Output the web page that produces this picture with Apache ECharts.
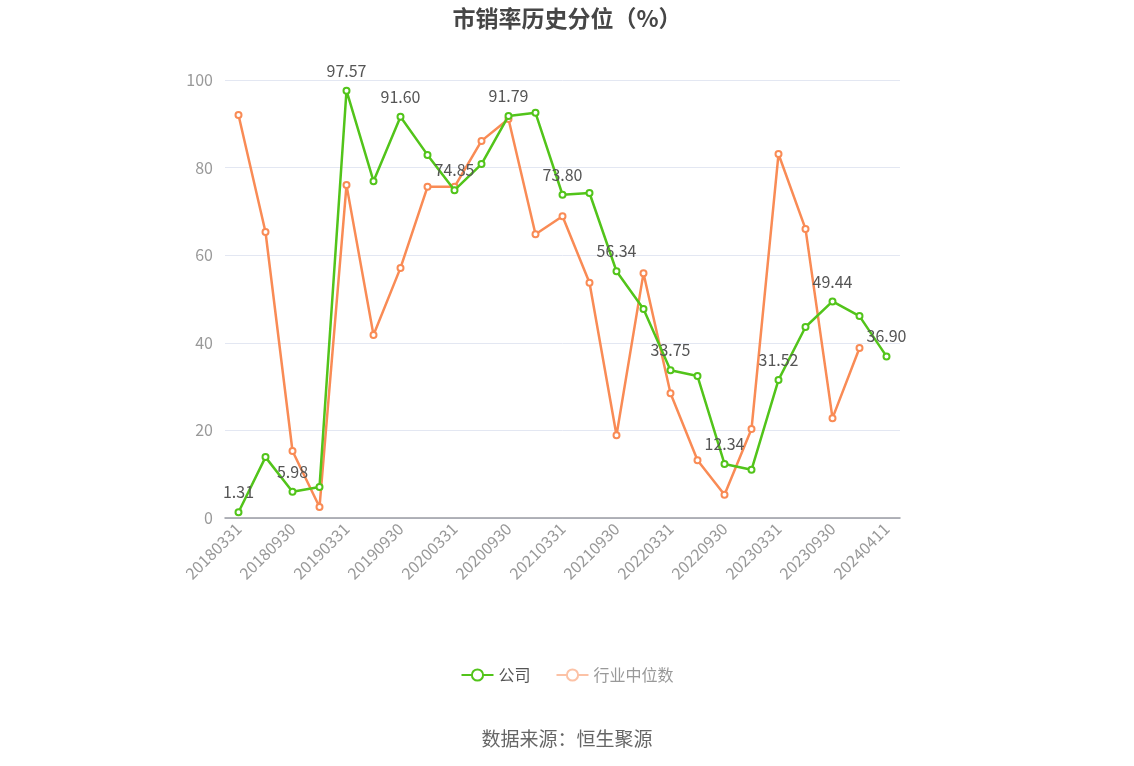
<!DOCTYPE html>
<html>
<head>
<meta charset="utf-8">
<script src="https://cdn.jsdelivr.net/npm/echarts@6/dist/echarts.min.js"></script>
<style>html,body{margin:0;padding:0;background:#fff}#c{width:1134px;height:766px}</style>
</head>
<body>
<div id="c"></div>
<script>
var categories = ['20180331','20180630','20180930','20181231','20190331','20190630','20190930','20191231','20200331','20200630','20200930','20201231','20210331','20210630','20210930','20211231','20220331','20220630','20220930','20221231','20230331','20230630','20230930','20231231','20240411'];
var companyValues = [1.31,13.9,5.98,7.1,97.57,76.9,91.60,82.9,74.85,80.8,91.79,92.5,73.80,74.2,56.34,47.7,33.75,32.4,12.34,11.0,31.52,43.6,49.44,46.1,36.90];
var industryValues = [92.0,65.3,15.3,2.5,76.0,41.8,57.1,75.6,75.6,86.1,91.1,64.8,68.9,53.7,18.9,55.9,28.5,13.2,5.3,20.3,83.1,66.0,22.8,38.8,null];
var yTicks = [0,20,40,60,80,100];

var chart = echarts.init(document.getElementById('c'));
chart.setOption({
  animation:false,
  title:{text:'市销率历史分位（%）',left:'center',top:2,textStyle:{fontSize:23,fontWeight:'bold',color:'#464646',fontFamily:'"Noto Sans CJK SC"'}},
  graphic:[{type:'text',left:'center',top:729,style:{text:'数据来源：恒生聚源',fontSize:19,fill:'#666',fontFamily:'"Noto Sans CJK SC"'}}],
  legend:{bottom:78,left:'center',itemWidth:32,itemHeight:14,itemGap:25,textStyle:{fontSize:16,fontFamily:'"Noto Sans CJK SC"'},
    data:[{name:'公司',textStyle:{color:'#555'}},{name:'行业中位数',textStyle:{color:'#999'},itemStyle:{color:'#fcc2a6',borderColor:'#fcc2a6'},lineStyle:{color:'#fcc2a6'}}]},
  grid:{left:225,right:234,top:80,bottom:248},
  xAxis:{type:'category',data:categories,boundaryGap:true,
    axisLine:{lineStyle:{color:'#9a9ca3',width:1.5}},
    axisTick:{alignWithLabel:true,interval:1,length:5,lineStyle:{color:'#9a9ca3'}},
    axisLabel:{interval:1,rotate:45,color:'#999',fontSize:16,fontFamily:'"Noto Sans CJK SC"',margin:8}},
  yAxis:{type:'value',min:yTicks[0],max:yTicks[yTicks.length-1],interval:20,
    axisLine:{show:false},axisTick:{show:false},
    axisLabel:{color:'#999',fontSize:16,margin:12,fontFamily:'"Noto Sans CJK SC"'},
    splitLine:{lineStyle:{color:'#e3e7f2',width:1}}},
  series:[
    {name:'公司',type:'line',data:companyValues,color:'#52c41a',symbol:'emptyCircle',symbolSize:6,
      lineStyle:{width:2.5},itemStyle:{borderWidth:2.5},
      label:{show:true,position:'top',distance:8,fontSize:16,color:'#555',fontFamily:'"Noto Sans CJK SC"',
        formatter:function(p){return p.dataIndex%2===0?p.value.toFixed(2):'';}},z:3},
    {name:'行业中位数',type:'line',data:industryValues,color:'#f98b55',symbol:'emptyCircle',symbolSize:6,
      lineStyle:{width:2.5},itemStyle:{borderWidth:2.5},z:2}
  ]
});
</script>
</body>
</html>
